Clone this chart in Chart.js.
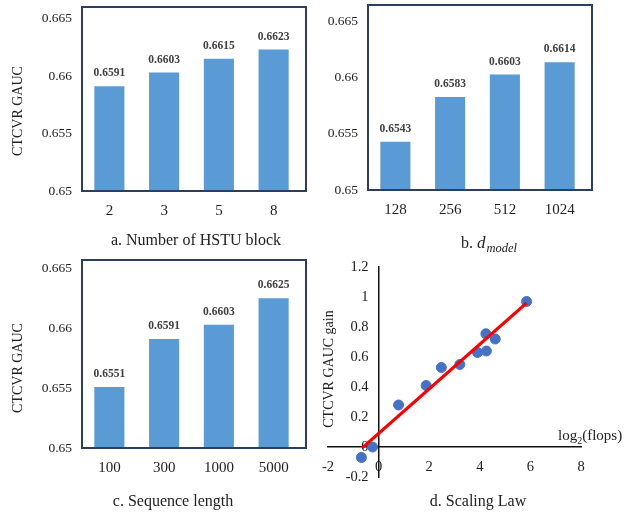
<!DOCTYPE html>
<html>
<head>
<meta charset="utf-8">
<script src="https://cdn.jsdelivr.net/npm/chart.js@4"></script>
<style>
  html, body { margin: 0; padding: 0; background: #fff; }
  #wrap { position: relative; width: 641px; height: 514px; overflow: hidden; }
  #wrap canvas { position: absolute; }
</style>
</head>
<body>
<div id="wrap">
  <canvas id="chartA" width="320" height="257" style="left:0;top:0;width:320px;height:257px"></canvas>
  <canvas id="chartB" width="321" height="257" style="left:320px;top:0;width:321px;height:257px"></canvas>
  <canvas id="chartC" width="320" height="257" style="left:0;top:257px;width:320px;height:257px"></canvas>
  <canvas id="chartD" width="321" height="257" style="left:320px;top:257px;width:321px;height:257px"></canvas>
</div>
<script>
// data
const blockLabels = ["2", "3", "5", "8"];
const blockGauc = [0.6591, 0.6603, 0.6615, 0.6623];

const dmodelLabels = ["128", "256", "512", "1024"];
const dmodelGauc = [0.6543, 0.6583, 0.6603, 0.6614];

const seqLabels = ["100", "300", "1000", "5000"];
const seqGauc = [0.6551, 0.6591, 0.6603, 0.6625];

const gaucTicks = [0.65, 0.655, 0.66, 0.665];

const flopsLog2 = [-0.68, -0.24, 0.79, 1.88, 2.48, 3.21, 3.91, 4.24, 4.26, 4.61, 5.85];
const gaucGain = [-0.07, 0.0, 0.28, 0.41, 0.53, 0.55, 0.63, 0.755, 0.64, 0.72, 0.97];
const fitX = [-0.64, 5.85];
const fitY = [-0.005, 0.96];
const flopsTicks = [-2, 0, 2, 4, 6, 8];
const gainTicks = [-0.2, 0, 0.2, 0.4, 0.6, 0.8, 1, 1.2];

const SERIF = "'Liberation Serif', 'Times New Roman', serif";
const BAR_BLUE = "#5B9BD5";
const TEXT = "#222";

// keep tick labels from pushing the plot area around
function noPad(s) {
  s.paddingTop = 0;
  s.paddingBottom = 0;
  s.paddingLeft = 0;
  s.paddingRight = 0;
}

function centerText(ctx, text, x, y, size) {
  ctx.font = size + "px " + SERIF;
  ctx.textAlign = "center";
  ctx.textBaseline = "middle";
  ctx.fillText(text, x, y);
}

// value labels + box + titles for the bar panels
function barPanel(id, labels, values, opt) {
  const deco = {
    id: "deco" + id,
    afterDatasetsDraw(chart) {
      const ctx = chart.ctx;
      const a = chart.chartArea;
      ctx.save();
      ctx.strokeStyle = "#2E3E5E";
      ctx.lineWidth = 2;
      ctx.strokeRect(a.left, a.top, a.right - a.left + 5, a.bottom - a.top);

      ctx.fillStyle = "#404040";
      ctx.font = "bold 11.5px " + SERIF;
      ctx.textAlign = "center";
      ctx.textBaseline = "alphabetic";
      chart.getDatasetMeta(0).data.forEach((bar, i) => {
        ctx.fillText(values[i].toFixed(4), bar.x, bar.y - 10);
      });

      ctx.fillStyle = TEXT;
      if (opt.yTitle) {
        ctx.save();
        ctx.translate(18, 111);
        ctx.rotate(-Math.PI / 2);
        centerText(ctx, opt.yTitle, 0, 0, 14);
        ctx.restore();
      }
      opt.drawTitle(ctx);
      ctx.restore();
    }
  };

  return new Chart(document.getElementById(id), {
    type: "bar",
    data: {
      labels: labels,
      datasets: [{
        data: values,
        backgroundColor: BAR_BLUE,
        borderWidth: 0,
        barPercentage: 0.55,
        categoryPercentage: 1
      }]
    },
    options: {
      responsive: false,
      animation: false,
      devicePixelRatio: 1,
      layout: { padding: { left: 0, top: opt.top, right: opt.right, bottom: 0 } },
      plugins: { legend: { display: false }, tooltip: { enabled: false } },
      scales: {
        x: {
          grid: { display: false, drawTicks: false },
          border: { display: false },
          ticks: { color: TEXT, font: { family: SERIF, size: 15 }, padding: 11 },
          afterFit: (s) => { s.height = opt.xHeight; noPad(s); }
        },
        y: {
          min: 0.65,
          max: opt.max,
          grid: { display: false, drawTicks: false },
          border: { display: false },
          afterBuildTicks: (s) => { s.ticks = gaucTicks.map(v => ({ value: v })); },
          ticks: {
            color: TEXT,
            font: { family: SERIF, size: 13.5 },
            padding: 10,
            callback: (v) => String(+(+v).toFixed(4))
          },
          afterFit: (s) => { s.width = opt.yWidth; noPad(s); }
        }
      }
    },
    plugins: [deco]
  });
}

barPanel("chartA", blockLabels, blockGauc, {
  top: 7, right: 19, xHeight: 66, yWidth: 82, max: 0.666,
  yTitle: "CTCVR GAUC",
  drawTitle: (ctx) => centerText(ctx, "a. Number of HSTU block", 196, 241, 16)
});

barPanel("chartB", dmodelLabels, dmodelGauc, {
  top: 5, right: 54, xHeight: 67, yWidth: 48, max: 0.6665,
  drawTitle: (ctx) => {
    // "b. d_model"
    const p1 = "b. ", p2 = "d", p3 = "model";
    ctx.textBaseline = "alphabetic";
    ctx.textAlign = "left";
    ctx.font = "16px " + SERIF;
    const w1 = ctx.measureText(p1).width;
    ctx.font = "italic 17px " + SERIF;
    const w2 = ctx.measureText(p2).width;
    ctx.font = "italic 12.5px " + SERIF;
    const w3 = ctx.measureText(p3).width;
    let x = 169 - (w1 + w2 + 1 + w3) / 2;
    ctx.font = "16px " + SERIF;
    ctx.fillText(p1, x, 248);
    x += w1;
    ctx.font = "italic 17px " + SERIF;
    ctx.fillText(p2, x, 248);
    x += w2 + 1;
    ctx.font = "italic 12.5px " + SERIF;
    ctx.fillText(p3, x, 252);
  }
});

barPanel("chartC", seqLabels, seqGauc, {
  top: 3, right: 19, xHeight: 66, yWidth: 82, max: 0.6657,
  yTitle: "CTCVR GAUC",
  drawTitle: (ctx) => centerText(ctx, "c. Sequence length", 173, 245, 16)
});

// scaling law scatter
const scatterDeco = {
  id: "scatterDeco",
  beforeDraw(chart) {
    // y labels on a crossing axis sit flush against it; push them left a bit
    chart.scales.y.getLabelItems(chart.chartArea).forEach((it) => {
      if (!it.shifted) {
        it.options.translation[0] -= 10;
        it.shifted = true;
      }
    });
  },
  afterDraw(chart) {
    const ctx = chart.ctx;
    ctx.save();
    ctx.fillStyle = TEXT;
    centerText(ctx, "d. Scaling Law", 158, 245, 16);

    ctx.save();
    ctx.translate(9, 112);
    ctx.rotate(-Math.PI / 2);
    centerText(ctx, "CTCVR GAUC gain", 0, 0, 14);
    ctx.restore();

    // log2(flops)
    ctx.textAlign = "left";
    ctx.textBaseline = "alphabetic";
    let x = 238;
    ctx.font = "15px " + SERIF;
    ctx.fillText("log", x, 183);
    x += ctx.measureText("log").width;
    ctx.font = "10px " + SERIF;
    ctx.fillText("2", x, 187);
    x += ctx.measureText("2").width;
    ctx.font = "15px " + SERIF;
    ctx.fillText("(flops)", x, 183);
    ctx.restore();
  }
};

new Chart(document.getElementById("chartD"), {
  type: "scatter",
  data: {
    datasets: [
      {
        data: fitX.map((x, i) => ({ x: x, y: fitY[i] })),
        showLine: true,
        borderColor: "#FF0000",
        borderWidth: 3,
        pointRadius: 0,
        order: 0
      },
      {
        data: flopsLog2.map((x, i) => ({ x: x, y: gaucGain[i] })),
        backgroundColor: "#4472C4",
        borderColor: "#4472C4",
        pointRadius: 5,
        order: 1
      }
    ]
  },
  options: {
    responsive: false,
    animation: false,
    devicePixelRatio: 1,
    layout: { padding: { left: 8, top: 10, right: 60, bottom: 37 } },
    plugins: { legend: { display: false }, tooltip: { enabled: false } },
    scales: {
      x: {
        type: "linear",
        position: { y: 0 },
        min: -2,
        max: 8,
        grid: { display: false, drawTicks: false },
        border: { display: true, color: "#111", width: 1.5 },
        afterBuildTicks: (s) => { s.ticks = flopsTicks.map(v => ({ value: v })); },
        ticks: { color: TEXT, font: { family: SERIF, size: 14.5 }, padding: 11, callback: (v) => String(v) },
        afterFit: (s) => { s.height = 0; noPad(s); }
      },
      y: {
        type: "linear",
        position: { x: 0 },
        min: -0.2,
        max: 1.2,
        grid: { display: false, drawTicks: false },
        border: { display: true, color: "#111", width: 1.5 },
        afterBuildTicks: (s) => { s.ticks = gainTicks.map(v => ({ value: v })); },
        ticks: { color: TEXT, font: { family: SERIF, size: 14.5 }, padding: 11, callback: (v) => String(+(+v).toFixed(2)) },
        afterFit: (s) => { s.width = 0; noPad(s); }
      }
    }
  },
  plugins: [scatterDeco]
});
</script>
</body>
</html>
